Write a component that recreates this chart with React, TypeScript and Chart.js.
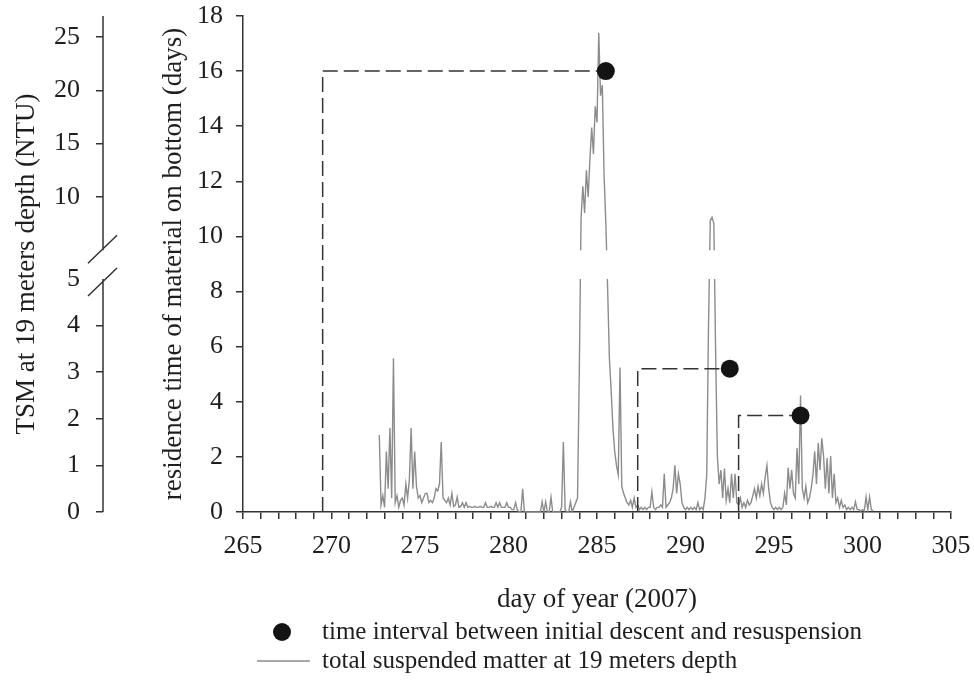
import React, { useEffect, useRef } from 'react';
import { Chart, registerables, LinearScale } from 'chart.js';

// ---------------- data ----------------
const dayMin = 265;
const dayMax = 305;
const dayLabelEvery = 5;
const residenceMin = 0;
const residenceMax = 18;
const residenceStep = 2;

// dashed intervals: from initial descent (day) to resuspension (day); height = residence time (days)
const descentDays = [269.5, 287.3, 293.0];
const resuspensionDays = [285.5, 292.5, 296.5];
const residenceDays = [16.0, 5.2, 3.5];

// TSM (NTU) on a broken axis
const tsmTickValues = [0, 1, 2, 3, 4, 5, 10, 15, 20, 25];
const tsmStartDay = 272.7;
const tsmStepDays = 0.1;
const tsmValues = [
  // 272.7 - 272.9
  1.65, 0.15, 0.35,
  // 273
  0.1, 1.3, 0.5, 1.8, 0.3, 3.3, 0.2, 0.35, 0.1, 0.25,
  // 274
  0.3, 0.15, 0.6, 0.3, 0.7, 1.8, 0.5, 1.3, 0.55, 0.3,
  // 275
  0.35, 0.2, 0.3, 0.4, 0.4, 0.2, 0.25, 0.2, 0.3, 0.5,
  // 276
  0.45, 0.6, 1.5, 0.3, 0.25, 0.2, 0.3, 0.15, 0.4, 0.12,
  // 277
  0.15, 0.32, 0.1, 0.12, 0.2, 0.1, 0.2, 0.1, 0.12, 0.1,
  // 278
  0.1, 0.12, 0.1, 0.1, 0.12, 0.1, 0.1, 0.2, 0.1, 0.1,
  // 279
  0.12, 0.1, 0.1, 0.2, 0.1, 0.2, 0.1, 0.1, 0.1, 0.2,
  // 280
  0.1, 0.1, 0.05, 0.05, 0.2, 0.05, 0, 0, 0.5, 0,
  // 281
  0, 0, 0, 0, 0, 0, 0, 0, 0, 0.22,
  // 282
  0, 0.22, 0, 0, 0.32, 0, 0, 0, 0, 0,
  // 283
  0.1, 1.5, 0.05, 0, 0, 0.22, 0, 0.1, 0.2, 0.3,
  // 284
  3.0, 8.0, 11.0, 8.5, 12.5, 10.0, 13.5, 16.5, 14.0, 18.5,
  // 285
  17.0, 25.4, 19.5, 20.5, 12.0, 7.5, 4.8, 3.3, 2.6, 1.8,
  // 286
  1.3, 1.0, 0.8, 3.1, 0.55, 0.4, 0.3, 0.2, 0.15, 0.25,
  // 287
  0.1, 0.3, 0.1, 0.15, 0.05, 0.1, 0.05, 0.1, 0.05, 0.1,
  // 288
  0.1, 0.43, 0.1, 0.05, 0.1, 0.1, 0.15, 0.1, 0.82, 0.1,
  // 289
  0.15, 0.2, 0.3, 0.5, 1.0, 0.4, 0.82, 0.6, 0.2, 0.1,
  // 290
  0.05, 0.1, 0.05, 0.1, 0.05, 0.1, 0.05, 0.2, 0.05, 0.1,
  // 291
  0.05, 0.3, 0.8, 4.0, 7.8, 8.1, 7.5, 3.5, 1.2, 0.6,
  // 292
  0.9, 0.3, 0.93, 0.25, 0.5, 0.2, 0.82, 0.3, 0.82, 0.2,
  // 293
  0.15, 0.3, 0.1, 0.2, 0.1, 0.25, 0.15, 0.2, 0.35, 0.5,
  // 294
  0.3, 0.55, 0.35, 0.6, 0.4, 0.75, 1.0, 0.5, 0.2, 0.1,
  // 295
  0.05, 0.1, 0.05, 0.1, 0.05, 0.1, 0.4, 0.15, 0.95, 0.5,
  // 296
  0.9, 0.4, 0.3, 1.37, 0.6, 2.5, 0.5, 0.3, 0.55, 0.2,
  // 297
  0.3, 0.5, 0.8, 1.3, 0.6, 1.48, 0.9, 1.58, 1.2, 0.5,
  // 298
  1.16, 0.4, 1.2, 0.3, 0.82, 0.2, 0.3, 0.1, 0.25, 0.1,
  // 299
  0.15, 0.05, 0.1, 0.05, 0.1, 0.05, 0.22, 0.05, 0.05, 0.02,
  // 300.0 - 300.6
  0.05, 0.02, 0.32, 0.05, 0.32, 0.05, 0.02,
];

const intervalLabel = 'time interval between initial descent and resuspension';
const tsmLabel = 'total suspended matter at 19 meters depth';
const xTitle = 'day of year (2007)';
const yTitle = 'residence time of material on bottom (days)';
const tsmTitle = 'TSM at 19 meters depth (NTU)';

// ---------------- broken TSM scale ----------------
const TSM_BREAK = 5;
const TSM_MAX = 26.97;
const LOWER_SHARE = 0.4698; // share of the axis height used by 0..5
const UPPER_START = 0.5276; // where the upper part (5..max) begins
const UPPER_PER_UNIT = (1 - UPPER_START) / (TSM_MAX - TSM_BREAK);

function tsmToDecimal(v: number) {
  return v <= TSM_BREAK ? (v / TSM_BREAK) * LOWER_SHARE : UPPER_START + (v - TSM_BREAK) * UPPER_PER_UNIT;
}
function decimalToTsm(d: number) {
  if (d <= LOWER_SHARE) return (d / LOWER_SHARE) * TSM_BREAK;
  if (d < UPPER_START) return TSM_BREAK;
  return TSM_BREAK + (d - UPPER_START) / UPPER_PER_UNIT;
}

class BrokenLinearScale extends LinearScale {
  static id = 'brokenLinear';
  static defaults = LinearScale.defaults;
  getPixelForValue(value: number) {
    return this.getPixelForDecimal(tsmToDecimal(value));
  }
  getValueForPixel(pixel: number) {
    return decimalToTsm(this.getDecimalForPixel(pixel));
  }
}

Chart.register(...registerables, BrokenLinearScale);

// ---------------- styles ----------------
const FONT = '"Liberation Serif", "Times New Roman", serif';
const TEXT = '#1e1e1e';
const AXIS = '#333333';
const GRAY = '#8c8c8c';
const DOT = '#141414';

const breakAndLegendPlugin = {
  id: 'breakAndLegend',
  beforeDatasetDraw(chart: any, args: any) {
    const ds = chart.data.datasets[args.index];
    if (ds.yAxisID !== 'tsm') return;
    const s = chart.scales.tsm;
    const a = chart.chartArea;
    const yU = s.getPixelForDecimal(UPPER_START);
    const yL = s.getPixelForDecimal(LOWER_SHARE);
    const ctx = chart.ctx;
    ctx.save();
    ctx.beginPath();
    ctx.rect(a.left, a.top - 5, a.width + 5, yU - a.top + 5);
    ctx.rect(a.left, yL, a.width + 5, a.bottom - yL + 5);
    ctx.clip();
  },
  afterDatasetDraw(chart: any, args: any) {
    const ds = chart.data.datasets[args.index];
    if (ds.yAxisID !== 'tsm') return;
    chart.ctx.restore();
  },
  afterDraw(chart: any) {
    const ctx = chart.ctx;
    const s = chart.scales.tsm;
    const a = chart.chartArea;
    const yU = s.getPixelForDecimal(UPPER_START);
    const yL = s.getPixelForDecimal(LOWER_SHARE);
    const ax = s.right;
    ctx.save();
    ctx.strokeStyle = AXIS;
    ctx.lineWidth = 1.5;
    ctx.beginPath();
    ctx.moveTo(ax, a.top);
    ctx.lineTo(ax, yU);
    ctx.moveTo(ax, yL);
    ctx.lineTo(ax, a.bottom);
    // break slashes
    const slash = (cy: number) => {
      ctx.moveTo(ax - 15, cy + 14);
      ctx.lineTo(ax + 14, cy - 14);
    };
    slash(yU - 1);
    slash(yL + 3);
    ctx.stroke();

    // legend
    const lx = a.left;
    const row1 = a.bottom + 120;
    const row2 = a.bottom + 149;
    ctx.fillStyle = DOT;
    ctx.beginPath();
    ctx.arc(lx + 39, row1, 9, 0, Math.PI * 2);
    ctx.fill();
    ctx.strokeStyle = GRAY;
    ctx.lineWidth = 1.5;
    ctx.beginPath();
    ctx.moveTo(lx + 14, row2);
    ctx.lineTo(lx + 67, row2);
    ctx.stroke();
    ctx.fillStyle = TEXT;
    ctx.font = `25px ${FONT}`;
    ctx.textBaseline = 'middle';
    ctx.textAlign = 'left';
    ctx.fillText(chart.data.datasets[0].label, lx + 79, row1);
    const tsmDs = chart.data.datasets.find((d: any) => d.yAxisID === 'tsm');
    ctx.fillText(tsmDs.label, lx + 79, row2);
    ctx.restore();
  },
};

export default function App() {
  const ref = useRef<HTMLCanvasElement>(null);

  useEffect(() => {
    document.body.style.margin = '0';
    const canvas = ref.current;
    if (!canvas) return;

    const tsmPoints = tsmValues.map((v, i) => ({
      x: Number((tsmStartDay + i * tsmStepDays).toFixed(2)),
      y: v,
    }));

    const resuspensionPoints = resuspensionDays.map((d, i) => ({ x: d, y: residenceDays[i] }));

    const dashedSets = descentDays.map((d, i) => ({
      label: 'interval ' + (i + 1),
      type: 'line' as const,
      data: [
        { x: d, y: 0 },
        { x: d, y: residenceDays[i] },
        { x: resuspensionDays[i], y: residenceDays[i] },
      ],
      borderColor: AXIS,
      borderWidth: 1.5,
      borderDash: [15, 6],
      pointRadius: 0,
      fill: false,
      xAxisID: 'x',
      yAxisID: 'y',
    }));

    const tickFont = { family: FONT, size: 26 };
    const titleFont = { family: FONT, size: 27 };

    const fitVertical = (width: number) => (scale: any) => {
      scale.width = width;
      scale.paddingTop = 16;
      scale.paddingBottom = 0;
    };

    const chart = new Chart(canvas, {
      type: 'line',
      data: {
        datasets: [
          {
            label: intervalLabel,
            data: resuspensionPoints,
            showLine: false,
            pointRadius: 9,
            pointHoverRadius: 9,
            pointBackgroundColor: DOT,
            pointBorderColor: DOT,
            pointBorderWidth: 0,
            xAxisID: 'x',
            yAxisID: 'y',
          },
          ...dashedSets,
          {
            label: tsmLabel,
            data: tsmPoints,
            borderColor: GRAY,
            borderWidth: 1.4,
            pointRadius: 0,
            tension: 0,
            fill: false,
            xAxisID: 'x',
            yAxisID: 'tsm',
          },
        ] as any,
      },
      options: {
        animation: false,
        responsive: false,
        devicePixelRatio: 1,
        layout: { padding: 0 },
        plugins: {
          legend: { display: false },
          tooltip: { enabled: false },
        },
        scales: {
          x: {
            type: 'linear',
            position: 'bottom',
            min: dayMin,
            max: dayMax,
            ticks: {
              stepSize: 1,
              autoSkip: false,
              maxRotation: 0,
              padding: 12,
              color: TEXT,
              font: tickFont,
              callback: (v: any) => (Number(v) % dayLabelEvery === 0 ? String(v) : ''),
            },
            grid: { drawOnChartArea: false, drawTicks: true, tickLength: 7, color: AXIS, lineWidth: 1.5 },
            border: { display: true, color: AXIS, width: 1.5 },
            title: {
              display: true,
              text: xTitle,
              color: TEXT,
              font: titleFont,
              padding: { top: 0, bottom: 73 },
            },
            afterFit: (scale: any) => {
              scale.height = 177;
              scale.paddingLeft = 0;
              scale.paddingRight = 23;
            },
          },
          y: {
            type: 'linear',
            position: 'left',
            weight: 0,
            min: residenceMin,
            max: residenceMax,
            ticks: { stepSize: residenceStep, padding: 13, color: TEXT, font: tickFont },
            grid: { drawOnChartArea: false, drawTicks: true, tickLength: 7, color: AXIS, lineWidth: 1.5 },
            border: { display: true, color: AXIS, width: 1.5 },
            title: {
              display: true,
              text: yTitle,
              color: TEXT,
              font: titleFont,
              padding: { top: 55, bottom: 0 },
            },
            afterFit: fitVertical(140),
          },
          tsm: {
            type: 'brokenLinear' as any,
            position: 'left',
            weight: 1,
            min: 0,
            max: TSM_MAX,
            afterBuildTicks: (scale: any) => {
              scale.ticks = tsmTickValues.map((v) => ({ value: v }));
            },
            ticks: {
              autoSkip: false,
              padding: 16,
              color: TEXT,
              font: tickFont,
              callback: (v: any) => String(v),
            },
            grid: {
              drawOnChartArea: false,
              drawTicks: true,
              tickLength: 7,
              lineWidth: 1.5,
              color: (c: any) => (c.tick && c.tick.value === TSM_BREAK ? 'rgba(0,0,0,0)' : AXIS),
            },
            border: { display: false },
            title: {
              display: true,
              text: tsmTitle,
              color: TEXT,
              font: titleFont,
              padding: { top: 11, bottom: 0 },
            },
            afterFit: fitVertical(103),
          },
        } as any,
      },
      plugins: [breakAndLegendPlugin as any],
    });

    return () => chart.destroy();
  }, []);

  return (
    <div style={{ width: 974, height: 689 }}>
      <canvas ref={ref} width={974} height={689} style={{ display: 'block' }} />
    </div>
  );
}
